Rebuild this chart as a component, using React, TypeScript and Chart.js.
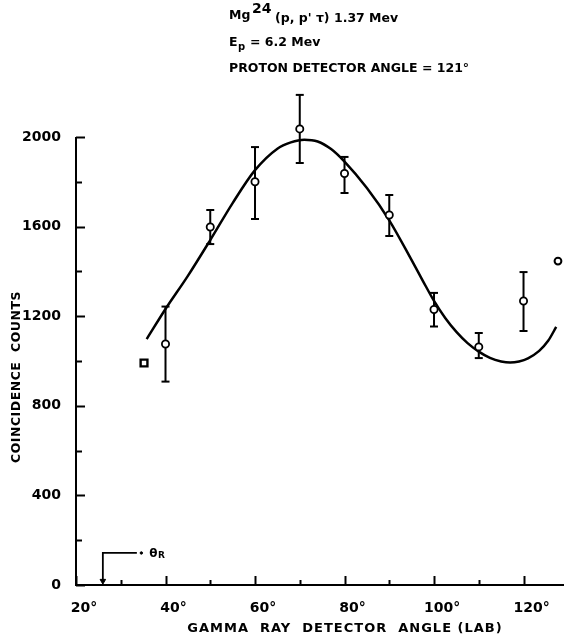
import React, { useEffect, useRef } from 'react';
import { Chart, registerables } from 'chart.js';

Chart.register(...registerables);

// Measured points (gamma-ray detector angle, coincidence counts)
const angles = [40, 50, 60, 70, 80, 90, 100, 110, 120];
const counts = [1076, 1598, 1800, 2036, 1837, 1652, 1230, 1063, 1268];
const errLow = [908, 1522, 1634, 1884, 1750, 1558, 1154, 1013, 1134];
const errHigh = [1243, 1674, 1955, 2188, 1911, 1741, 1304, 1125, 1397];

// Extra points without error bars
const openAngles = [127.7];
const openCounts = [1446];
const squareAngles = [35.2];
const squareCounts = [991];

// Fitted curve
const fitAngles = [35.8, 40, 45, 50, 55, 60, 65, 68, 71, 74, 77, 80, 85, 90, 95, 97.5, 100, 102.5, 105, 107.5, 110, 112.5, 115, 117, 119, 121, 123.5, 125.5, 127.3];
const fitCounts = [1098, 1232, 1380, 1540, 1705, 1852, 1948, 1976, 1988, 1980, 1946, 1890, 1772, 1628, 1450, 1358, 1268, 1192, 1130, 1080, 1042, 1014, 998, 993, 998, 1012, 1045, 1090, 1152];

// Recoil angle marker
const thetaRAngle = 26;
const thetaRLevel = 143;
const thetaRArmEnd = 33.6;
const thetaRDot = 34.6;
const thetaRArrow = 18;

// Axes
const xMin = 20;
const xMax = 129;
const yMin = 0;
const yAxisTop = 2000;
const yRangeMax = 2250;
const xTicks = [20, 40, 60, 80, 100, 120];
const xMinorTicks = [30, 50, 70, 90, 110];
const yTicks = [0, 400, 800, 1200, 1600, 2000];
const yMinorTicks = [200, 600, 1000, 1400, 1800];

const FONT = '"DejaVu Sans", "Liberation Sans", sans-serif';

export default function App() {
  const ref = useRef<HTMLCanvasElement | null>(null);

  useEffect(() => {
    const canvas = ref.current;
    if (!canvas) return;

    const errData: any[] = [];
    angles.forEach((a, i) => {
      errData.push({ x: a, y: errLow[i] });
      errData.push({ x: a, y: errHigh[i] });
      errData.push({ x: a, y: null });
    });

    const annot = {
      id: 'annot',
      beforeDatasetsDraw(chart: any) {
        const { ctx, chartArea } = chart;
        const y = chart.scales.y;
        ctx.save();
        ctx.strokeStyle = '#000';
        ctx.lineWidth = 2;
        ctx.beginPath();
        ctx.moveTo(chartArea.left, chartArea.bottom + 1);
        ctx.lineTo(chartArea.left, Math.round(y.getPixelForValue(yAxisTop)));
        ctx.stroke();
        ctx.restore();
      },
      afterDraw(chart: any) {
        const { ctx, chartArea } = chart;
        const x = chart.scales.x;
        const y = chart.scales.y;
        ctx.save();
        ctx.strokeStyle = '#000';
        ctx.fillStyle = '#000';
        ctx.lineWidth = 2;
        // inward ticks on y
        const yt = (v: number, len: number) => {
          const py = Math.round(y.getPixelForValue(v)) + 0.5;
          ctx.beginPath();
          ctx.moveTo(chartArea.left, py);
          ctx.lineTo(chartArea.left + len, py);
          ctx.stroke();
        };
        yTicks.forEach((v) => yt(v, 9));
        yMinorTicks.forEach((v) => yt(v, 6));
        const xt = (v: number, len: number) => {
          const px = Math.round(x.getPixelForValue(v)) + 0.5;
          ctx.beginPath();
          ctx.moveTo(px, chartArea.bottom);
          ctx.lineTo(px, chartArea.bottom - len);
          ctx.stroke();
        };
        xTicks.forEach((v) => xt(v, 9));
        xMinorTicks.forEach((v) => xt(v, 5));

        // title block
        ctx.textAlign = 'left';
        ctx.textBaseline = 'alphabetic';
        ctx.font = `bold 12.5px ${FONT}`;
        ctx.fillText('Mg', 229, 19);
        ctx.font = `bold 14px ${FONT}`;
        ctx.fillText('24', 252, 13);
        ctx.font = `bold 12.5px ${FONT}`;
        ctx.fillText("(p, p' τ) 1.37 Mev", 275, 22);
        ctx.fillText('E', 229, 46);
        ctx.font = `bold 10px ${FONT}`;
        ctx.fillText('p', 238, 50);
        ctx.font = `bold 12.5px ${FONT}`;
        ctx.fillText('= 6.2 Mev', 250, 46);
        ctx.fillText('PROTON DETECTOR ANGLE = 121°', 229, 72);

        // y axis title
        ctx.save();
        ctx.translate(17, 377);
        ctx.rotate(-Math.PI / 2);
        ctx.textAlign = 'center';
        ctx.textBaseline = 'middle';
        ctx.font = `bold 12.5px ${FONT}`;
        (ctx as any).letterSpacing = '0.5px';
        ctx.fillText('COINCIDENCE  COUNTS', 0, 0);
        ctx.restore();

        // x axis title
        ctx.save();
        ctx.textAlign = 'center';
        ctx.textBaseline = 'middle';
        ctx.font = `bold 13px ${FONT}`;
        (ctx as any).letterSpacing = '1px';
        ctx.fillText('GAMMA  RAY  DETECTOR  ANGLE (LAB)', 345, 629);
        ctx.restore();

        // theta R label
        const lx = x.getPixelForValue(thetaRDot) + 8;
        const ly = y.getPixelForValue(thetaRLevel);
        ctx.textAlign = 'left';
        ctx.textBaseline = 'middle';
        ctx.font = `bold 12px ${FONT}`;
        ctx.fillText('θ', lx, ly + 1);
        const w = ctx.measureText('θ').width;
        ctx.font = `bold 9px ${FONT}`;
        ctx.fillText('R', lx + w + 0.5, ly + 3);
        ctx.restore();
      },
    };

    const chart = new Chart(canvas, {
      type: 'scatter',
      data: {
        datasets: [
          {
            label: 'measured',
            data: angles.map((a, i) => ({ x: a, y: counts[i] })),
            pointStyle: 'circle',
            pointRadius: 3.6,
            pointBorderWidth: 1.8,
            pointBackgroundColor: '#fff',
            pointBorderColor: '#000',
            showLine: false,
            clip: false,
            order: 0,
          },
          {
            label: 'open',
            data: openAngles.map((a, i) => ({ x: a, y: openCounts[i] })),
            pointStyle: 'circle',
            pointRadius: 3.4,
            pointBorderWidth: 2,
            pointBackgroundColor: '#fff',
            pointBorderColor: '#000',
            showLine: false,
            clip: false,
            order: 0,
          },
          {
            label: 'square',
            data: squareAngles.map((a, i) => ({ x: a, y: squareCounts[i] })),
            pointStyle: 'rect',
            pointRadius: 4.8,
            pointBorderWidth: 2.4,
            pointBackgroundColor: '#fff',
            pointBorderColor: '#000',
            showLine: false,
            order: 0,
          },
          {
            label: 'errors',
            data: errData,
            showLine: true,
            spanGaps: false,
            borderColor: '#000',
            borderWidth: 2,
            pointStyle: 'line',
            pointRadius: 4,
            pointBorderWidth: 2,
            pointBorderColor: '#000',
            clip: false,
            order: 1,
          },
          {
            label: 'fit',
            data: fitAngles.map((a, i) => ({ x: a, y: fitCounts[i] })),
            showLine: true,
            borderColor: '#000',
            borderWidth: 2.5,
            pointRadius: 0,
            cubicInterpolationMode: 'monotone',
            order: 2,
          },
          {
            label: 'thetaR',
            data: [
              { x: thetaRAngle, y: thetaRArrow },
              { x: thetaRAngle, y: thetaRLevel },
              { x: thetaRArmEnd, y: thetaRLevel },
            ],
            showLine: true,
            borderColor: '#000',
            borderWidth: 1.8,
            pointRadius: 0,
            tension: 0,
            order: 2,
          },
          {
            label: 'thetaRArrow',
            data: [{ x: thetaRAngle, y: thetaRArrow }],
            pointStyle: 'triangle',
            rotation: 180,
            pointRadius: 3.2,
            pointBackgroundColor: '#000',
            pointBorderColor: '#000',
            pointBorderWidth: 1,
            showLine: false,
            order: 1,
          },
          {
            label: 'thetaRDot',
            data: [{ x: thetaRDot, y: thetaRLevel }],
            pointStyle: 'circle',
            pointRadius: 1.2,
            pointBackgroundColor: '#000',
            pointBorderColor: '#000',
            showLine: false,
            order: 1,
          },
        ],
      },
      options: {
        animation: false,
        responsive: false,
        devicePixelRatio: 1,
        layout: { padding: { top: 81, right: 0, left: 0, bottom: 0 } },
        plugins: {
          legend: { display: false },
          tooltip: { enabled: false },
          title: { display: false },
        },
        scales: {
          x: {
            type: 'linear',
            min: xMin,
            max: xMax,
            afterBuildTicks: (s: any) => {
              s.ticks = xTicks.map((v) => ({ value: v }));
            },
            afterFit: (s: any) => {
              s.height = 50;
            },
            grid: { display: false },
            border: { display: true, color: '#000', width: 2 },
            ticks: {
              color: '#000',
              font: { family: FONT, size: 14, weight: 'bold' },
              padding: 7,
              labelOffset: 8,
              maxRotation: 0,
              autoSkip: false,
              callback: (v: any) => `${v}°`,
            },
          },
          y: {
            type: 'linear',
            min: yMin,
            max: yRangeMax,
            afterBuildTicks: (s: any) => {
              s.ticks = yTicks.map((v) => ({ value: v }));
            },
            afterFit: (s: any) => {
              s.width = 76;
            },
            grid: { display: false },
            border: { display: false },
            ticks: {
              color: '#000',
              font: { family: FONT, size: 14, weight: 'bold' },
              padding: 7,
              autoSkip: false,
              callback: (v: any) => `${v}`,
            },
          },
        },
      },
      plugins: [annot],
    } as any);

    return () => chart.destroy();
  }, []);

  return (
    <div style={{ position: 'fixed', left: 0, top: 0, width: 571, height: 635, background: '#fff' }}>
      <canvas ref={ref} width={571} height={635} style={{ width: 571, height: 635, display: 'block' }} />
    </div>
  );
}
